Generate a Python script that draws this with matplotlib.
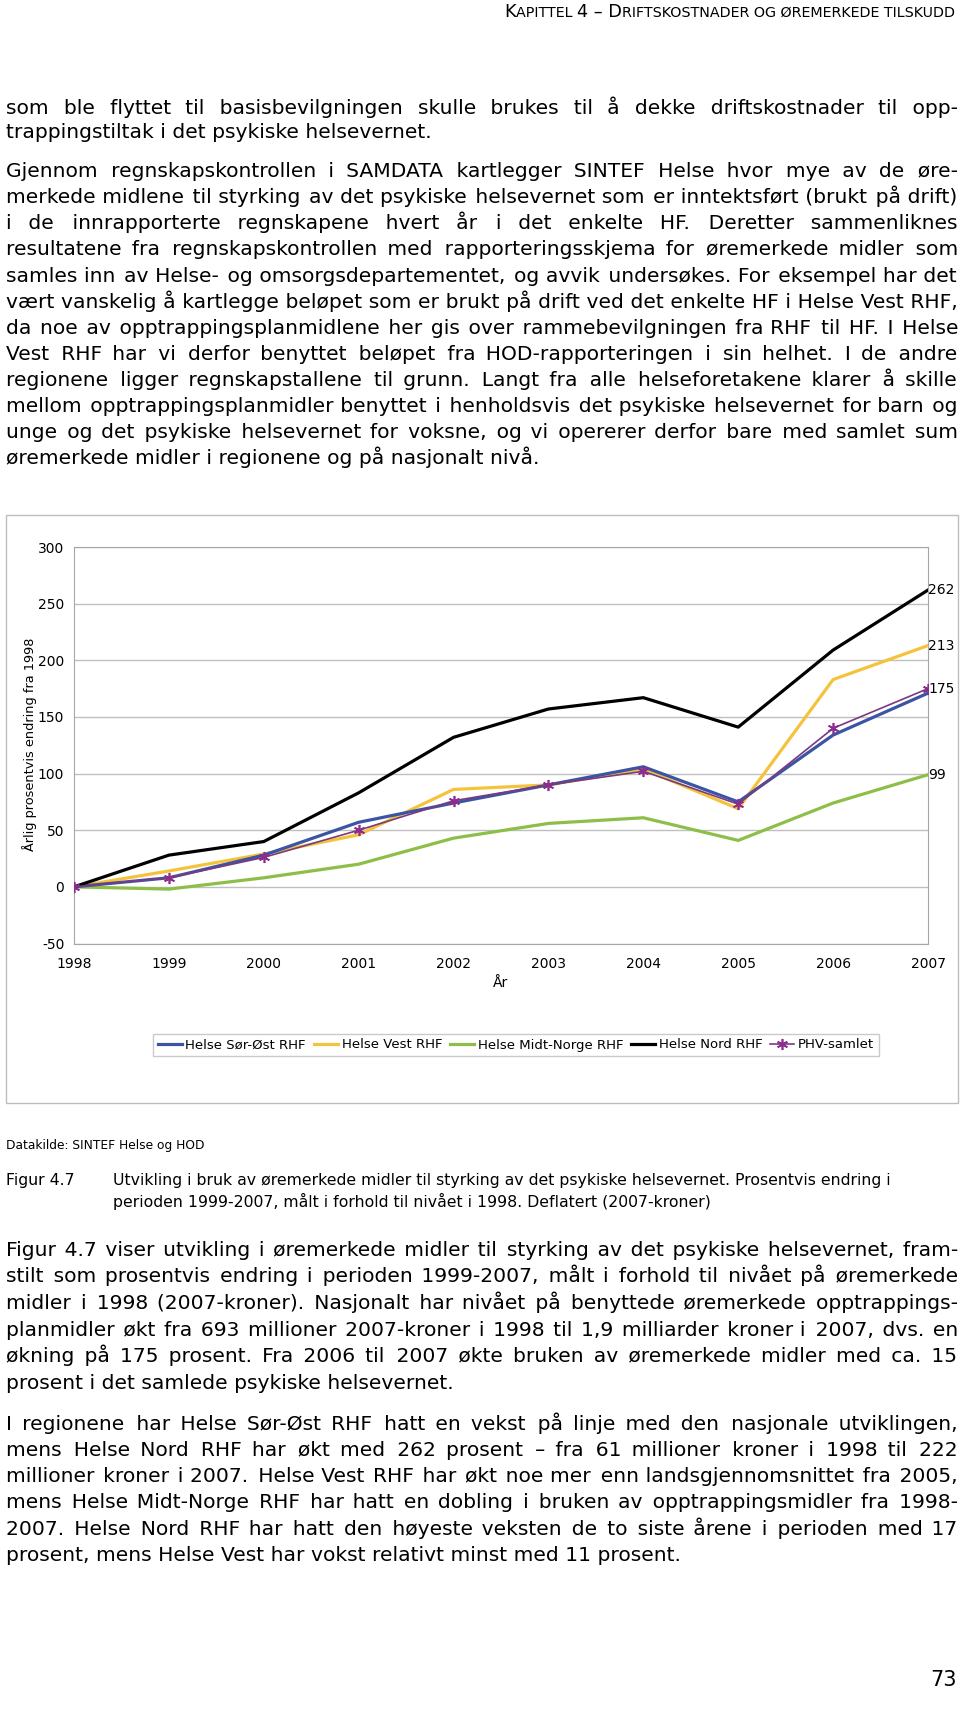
import matplotlib
matplotlib.use("Agg")
import matplotlib.pyplot as plt
from matplotlib import font_manager, ft2font
from matplotlib.patches import Rectangle

plt.rcParams["axes.unicode_minus"] = False

# ===============================
# DATA
# ===============================
years = [1998, 1999, 2000, 2001, 2002, 2003, 2004, 2005, 2006, 2007]
sor_ost = [0, 8, 28, 57, 74, 90, 106, 75, 134, 171]
vest = [0, 14, 29, 46, 86, 90, 104, 69, 183, 213]
midt_norge = [0, -2, 8, 20, 43, 56, 61, 41, 74, 99]
nord = [0, 28, 40, 83, 132, 157, 167, 141, 209, 262]
phv_samlet = [0, 8, 26, 50, 76, 90, 102, 73, 140, 175]
series_names = ["Helse Sør-Øst RHF", "Helse Vest RHF", "Helse Midt-Norge RHF",
                "Helse Nord RHF", "PHV-samlet"]
yticks = [-50, 0, 50, 100, 150, 200, 250, 300]

header = [("K", True), ("APITTEL ", False), ("4 – D", True),
          ("RIFTSKOSTNADER OG ØREMERKEDE TILSKUDD", False)]

para1 = [
    "som ble flyttet til basisbevilgningen skulle brukes til å dekke driftskostnader til opp-",
    "trappingstiltak i det psykiske helsevernet.",
]
para2 = [
    "Gjennom regnskapskontrollen i SAMDATA kartlegger SINTEF Helse hvor mye av de øre-",
    "merkede midlene til styrking av det psykiske helsevernet som er inntektsført (brukt på drift)",
    "i de innrapporterte regnskapene hvert år i det enkelte HF. Deretter sammenliknes",
    "resultatene fra regnskapskontrollen med rapporteringsskjema for øremerkede midler som",
    "samles inn av Helse- og omsorgsdepartementet, og avvik undersøkes. For eksempel har det",
    "vært vanskelig å kartlegge beløpet som er brukt på drift ved det enkelte HF i Helse Vest RHF,",
    "da noe av opptrappingsplanmidlene her gis over rammebevilgningen fra RHF til HF. I Helse",
    "Vest RHF har vi derfor benyttet beløpet fra HOD-rapporteringen i sin helhet. I de andre",
    "regionene ligger regnskapstallene til grunn. Langt fra alle helseforetakene klarer å skille",
    "mellom opptrappingsplanmidler benyttet i henholdsvis det psykiske helsevernet for barn og",
    "unge og det psykiske helsevernet for voksne, og vi opererer derfor bare med samlet sum",
    "øremerkede midler i regionene og på nasjonalt nivå.",
]
para3 = [
    "Figur 4.7 viser utvikling i øremerkede midler til styrking av det psykiske helsevernet, fram-",
    "stilt som prosentvis endring i perioden 1999-2007, målt i forhold til nivået på øremerkede",
    "midler i 1998 (2007-kroner). Nasjonalt har nivået på benyttede øremerkede opptrappings-",
    "planmidler økt fra 693 millioner 2007-kroner i 1998 til 1,9 milliarder kroner i 2007, dvs. en",
    "økning på 175 prosent. Fra 2006 til 2007 økte bruken av øremerkede midler med ca. 15",
    "prosent i det samlede psykiske helsevernet.",
]
para4 = [
    "I regionene har Helse Sør-Øst RHF hatt en vekst på linje med den nasjonale utviklingen,",
    "mens Helse Nord RHF har økt med 262 prosent – fra 61 millioner kroner i 1998 til 222",
    "millioner kroner i 2007. Helse Vest RHF har økt noe mer enn landsgjennomsnittet fra 2005,",
    "mens Helse Midt-Norge RHF har hatt en dobling i bruken av opptrappingsmidler fra 1998-",
    "2007. Helse Nord RHF har hatt den høyeste veksten de to siste årene i perioden med 17",
    "prosent, mens Helse Vest har vokst relativt minst med 11 prosent.",
]
source = "Datakilde: SINTEF Helse og HOD"
fig_label = "Figur 4.7"
caption = [
    "Utvikling i bruk av øremerkede midler til styrking av det psykiske helsevernet. Prosentvis endring i",
    "perioden 1999-2007, målt i forhold til nivået i 1998. Deflatert (2007-kroner)",
]
page_no = "73"

# ===============================
# PAGE
# ===============================
W, H = 960, 1717
fig = plt.figure(figsize=(W / 100, H / 100), dpi=100)
fig.patch.set_facecolor("white")
rend = fig.canvas.get_renderer()
FONT = "DejaVu Sans"

# unicode spaces the font really has, used to justify whole lines
cmap = ft2font.FT2Font(font_manager.findfont(FONT)).get_charmap()
SPACES = [c for c in ["\u2003", "\u2002", "\u2004", " ", "\u2005", "\u2009",
                      "\u2006", "\u200a"] if ord(c) in cmap]


def width_px(s, size):
    t = fig.text(0, 0, "|" + s + "|", fontsize=size, family=FONT)
    w = t.get_window_extent(rend).width
    t.remove()
    t = fig.text(0, 0, "||", fontsize=size, family=FONT)
    w0 = t.get_window_extent(rend).width
    t.remove()
    return w - w0


def put(x, y, s, size, **kw):
    # y is the visual middle of the lowercase letters; draw on the baseline
    if "va" not in kw:
        kw["va"] = "baseline"
        y = y + 0.27 * size * 100 / 72
    return fig.text(x / W, 1 - y / H, s, fontsize=size, family=FONT, **kw)


def fit_size(s, target):
    return 10 * target / width_px(s, 10)


def justify(line, size, target):
    words = line.split(" ")
    ws = [width_px(w, size) for w in words]
    sw = sorted(((width_px(c, size), c) for c in SPACES), reverse=True)
    gap = (target - sum(ws)) / (len(words) - 1)
    out = words[0]
    err = 0.0
    for w in words[1:]:
        need = gap + err
        fill, got = "", 0.0
        for cw, c in sw:
            while cw > 0 and got + cw <= need + sw[-1][0] / 2:
                fill += c
                got += cw
        if not fill:
            fill, got = " ", sw[[c for _, c in sw].index(" ")][0]
        err = need - got
        out += fill + w
    return out


def paragraph(lines, ys, size, left=5.5, right=957.0):
    for i, line in enumerate(lines):
        if i < len(lines) - 1:
            line = justify(line, size, right - left)
        put(left, ys[i], line, size)


body = fit_size(para2[-1], 533)
sc = 1.0946
paragraph(para1, [99 * sc, 121 * sc], body)
paragraph(para2, [(157 + 23.8 * i) * sc for i in range(len(para2))], body)
paragraph(para3, [(1142 + 24.4 * i) * sc for i in range(len(para3))], body)
paragraph(para4, [(1301 + 24 * i) * sc for i in range(len(para4))], body)

# header in small caps
big = 10.0
small = big * 0.8
tot = sum(width_px(s, big if b else small) for s, b in header)
f = 451 / tot
x = 955 - 451
for s, b in header:
    sz = (big if b else small) * f
    put(x, 17, s, sz, va="baseline")
    x += width_px(s, sz)

# caption block
put(5.5, 1047 * sc, source, fit_size(source, 198))
cap = fit_size(caption[0], 776)
put(5.5, 1079 * sc, fig_label, cap)
put(113, 1079 * sc, caption[0], cap)
put(113, 1099 * sc, caption[1], cap)

put(957, 1535 * sc, page_no, 15, ha="right")

# ===============================
# CHART
# ===============================
fig.add_artist(Rectangle((5.5 / W, 1 - 1103 / H), 952 / W, (1103 - 514.5) / H,
                         transform=fig.transFigure, fill=False,
                         ec="#BDBDBD", lw=1))

ax = fig.add_axes([74 / W, 1 - 943.5 / H, 854 / W, 396.5 / H])
ax.set_xlim(years[0], years[-1])
ax.set_ylim(yticks[0], yticks[-1])
ax.set_yticks(yticks)
ax.set_xticks(years)
ax.grid(axis="y", color="#BFBFBF", lw=1)
ax.set_axisbelow(True)
for sp in ax.spines.values():
    sp.set_color("#A6A6A6")
ax.tick_params(length=0, labelsize=10)
ax.tick_params(axis="y", pad=7)
ax.tick_params(axis="x", pad=10)

ax.plot(years, midt_norge, color="#8DBF48", lw=2.3, label=series_names[2], zorder=3)
ax.plot(years, vest, color="#F5C33B", lw=2.3, label=series_names[1], zorder=4)
ax.plot(years, sor_ost, color="#3A55A4", lw=2.3, label=series_names[0], zorder=5)
ax.plot(years, nord, color="black", lw=2.3, label=series_names[3], zorder=6)
ax.plot(years, phv_samlet, color="#7B3A7F", lw=1.2, marker=(6, 2, 0), ms=8,
        mec="#8E2B8E", mew=1.2, label=series_names[4], zorder=7)

for vals in [nord, vest, phv_samlet, midt_norge]:
    ax.annotate(str(vals[-1]), xy=(years[-1], vals[-1]), xytext=(0, 0),
                textcoords="offset points", ha="left", va="center",
                fontsize=10, annotation_clip=False)

put(29.5, 744, "Årlig prosentvis endring fra 1998", 9.3, rotation=90,
    ha="center", va="center")
put(501, 983, "År", 10, ha="center")

handles, labels = ax.get_legend_handles_labels()
hmap = dict(zip(labels, handles))
leg = fig.legend([hmap[n] for n in series_names], series_names, loc="center",
                 bbox_to_anchor=(516 / W, 1 - 1045 / H), ncol=5, fontsize=9.5,
                 frameon=True, fancybox=False, edgecolor="#BDBDBD",
                 handlelength=1.8, handletextpad=0.3, columnspacing=0.6,
                 borderpad=0.35)
leg.get_frame().set_linewidth(1)

fig.savefig("out.png", dpi=100, facecolor="white")
